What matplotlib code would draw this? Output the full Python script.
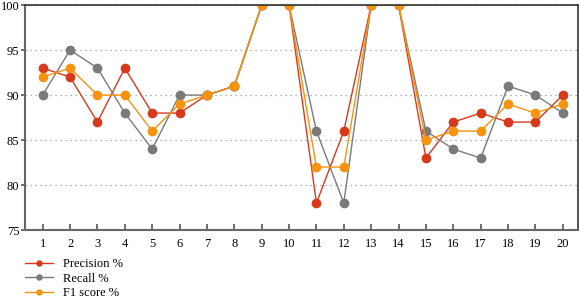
import matplotlib.pyplot as plt
import numpy as np

plt.rcParams['font.family'] = ['Liberation Serif', 'DejaVu Serif']

samples = list(range(1, 21))
precision = [93, 92, 87, 93, 88, 88, 90, 91, 100, 100, 78, 86, 100, 100, 83, 87, 88, 87, 87, 90]
recall = [90, 95, 93, 88, 84, 90, 90, 91, 100, 100, 86, 78, 100, 100, 86, 84, 83, 91, 90, 88]
f1 = [92, 93, 90, 90, 86, 89, 90, 91, 100, 100, 82, 82, 100, 100, 85, 86, 86, 89, 88, 89]

fig = plt.figure(figsize=(5.79, 2.98), dpi=100)
ax = fig.add_axes([0.043, 0.228, 0.955, 0.755])

ax.plot(samples, precision, color='#d8391b', marker='o', markersize=6, linewidth=1, label='Precision %')
ax.plot(samples, recall, color='#7a7a7a', marker='o', markersize=6, linewidth=1, label='Recall %')
ax.plot(samples, f1, color='#f7930f', marker='o', markersize=6, linewidth=1, label='F1 score %')

ax.set_xlim(0.35, 20.55)
ax.set_ylim(75, 100)
ax.set_xticks(samples)
ax.set_yticks([75, 80, 85, 90, 95, 100])
ax.yaxis.grid(True, linestyle=(0, (1, 3)), color='#999999', linewidth=0.9)
ax.tick_params(axis='both', labelsize=9, color='#555555', width=1.2)
ax.tick_params(axis='x', direction='in', length=4, pad=6)
ax.tick_params(axis='y', direction='out', length=3, pad=1)
for side in ['left', 'bottom']:
    ax.spines[side].set_color('#666666')
    ax.spines[side].set_linewidth(1.5)
for side in ['top', 'right']:
    ax.spines[side].set_color('#333333')
    ax.spines[side].set_linewidth(1.2)

fig.legend(loc='upper left', bbox_to_anchor=(0.035, 0.15), frameon=False, fontsize=9,
           handlelength=2.2, labelspacing=0.2, markerscale=0.6, borderaxespad=0)

fig.savefig('out.png', dpi=100)
